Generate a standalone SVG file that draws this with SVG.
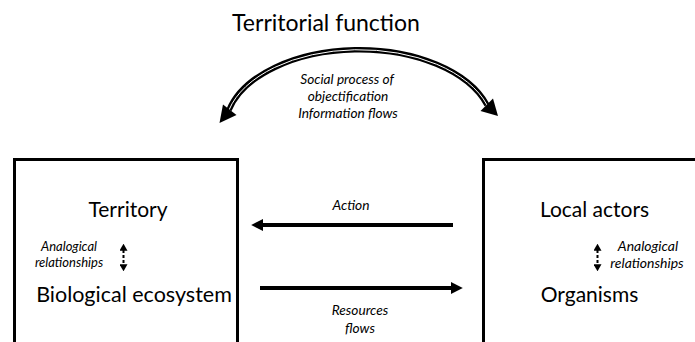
<svg xmlns="http://www.w3.org/2000/svg" width="695" height="342" viewBox="0 0 695 342">
<style>
.t{font-family:Lato,"Open Sans","Liberation Sans",sans-serif;fill:#000;text-anchor:middle}
.i{font-family:Lato,"Open Sans","Liberation Sans",sans-serif;font-style:italic;fill:#000;text-anchor:middle}
.box{fill:none;stroke:#000;stroke-width:3}
.shaft{stroke:#000;stroke-width:4;fill:none}
.dash{stroke:#000;stroke-width:2;stroke-dasharray:3 2;fill:none}
</style>
<defs>
<marker id="ah" viewBox="0 0 10 10" refX="1" refY="5" markerWidth="3" markerHeight="3" orient="auto-start-reverse" markerUnits="strokeWidth">
<path d="M0,0 L10,5 L0,10 Z" fill="#000"/>
</marker>
<marker id="ahs" viewBox="0 0 10 10" refX="1" refY="5" markerWidth="7" markerHeight="8" orient="auto-start-reverse" markerUnits="userSpaceOnUse" preserveAspectRatio="none">
<path d="M0,0 L10,5 L0,10 Z" fill="#000"/>
</marker>
</defs>
<rect width="695" height="342" fill="#fff"/>
<text class="t" x="326" y="31" font-size="23">Territorial function</text>
<g id="left-box">
<rect class="box" x="14.5" y="159.5" width="223" height="200"/>
<text class="t" x="128" y="217" font-size="21">Territory</text>
<text class="t" x="134" y="302" font-size="21.5">Biological ecosystem</text>
<text class="i" x="69" y="251" font-size="13">Analogical</text>
<text class="i" x="69" y="266.5" font-size="13">relationships</text>
</g>
<g id="right-box">
<rect class="box" x="483.5" y="159.5" width="230" height="200"/>
<text class="t" x="594.5" y="217" font-size="21">Local actors</text>
<text class="t" x="589.5" y="302" font-size="21">Organisms</text>
<text class="i" x="648" y="251" font-size="14">Analogical</text>
<text class="i" x="647" y="267.5" font-size="14">relationships</text>
</g>
<g id="labels">
<text class="i" x="347" y="84" font-size="13.7">Social process of</text>
<text class="i" x="348" y="101" font-size="13.7">objectification</text>
<text class="i" x="348" y="118" font-size="13.7">Information flows</text>
<text class="i" x="351" y="210" font-size="13.8">Action</text>
<text class="i" x="360" y="315" font-size="13.7">Resources</text>
<text class="i" x="360" y="333" font-size="13.7">flows</text>
</g>
<g id="connectors">
<path d="M229,110 A134,79 0 0 1 487,105" stroke="#000" stroke-width="5.5" fill="none"/>
<path d="M229,110 A134,79 0 0 1 487,105" stroke="#fff" stroke-width="1" fill="none"/>
<polygon points="219.5,123 236.5,115 223,104.5" fill="#000"/>
<polygon points="498,116 480.5,111 493,98.5" fill="#000"/>
<line class="shaft" x1="453" y1="225" x2="262" y2="225" marker-end="url(#ah)"/>
<line class="shaft" x1="260" y1="288" x2="452" y2="288" marker-end="url(#ah)"/>
<line class="dash" x1="123.5" y1="250" x2="123.5" y2="265" marker-start="url(#ahs)" marker-end="url(#ahs)"/>
<line class="dash" x1="597.5" y1="250" x2="597.5" y2="265" marker-start="url(#ahs)" marker-end="url(#ahs)"/>
</g>
</svg>
